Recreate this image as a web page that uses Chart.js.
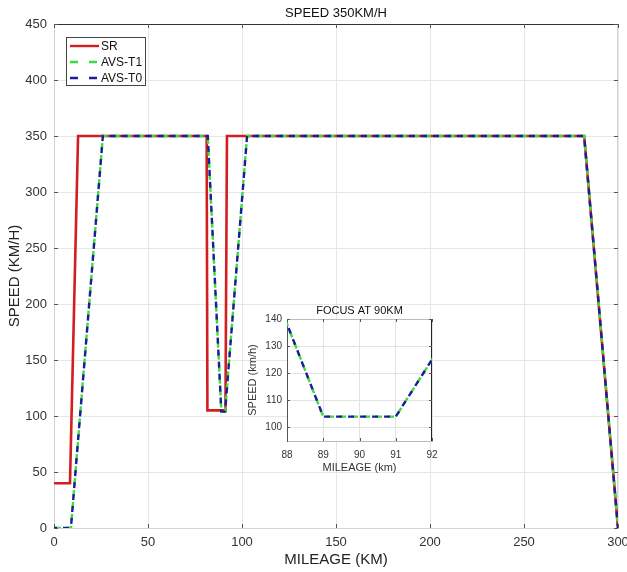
<!DOCTYPE html>
<html>
<head>
<meta charset="utf-8">
<script src="https://cdn.jsdelivr.net/npm/chart.js@4.4.0/dist/chart.umd.min.js"></script>
<style>
    html, body { margin: 0; padding: 0; background: #fff; }
    #wrap { position: relative; width: 627px; height: 572px; }
    #mainChart { position: absolute; left: 0; top: 0; }
    #insetChart { position: absolute; left: 245px; top: 300px; }
</style>
</head>
<body>
<div id="wrap">
    <canvas id="mainChart" width="627" height="572"></canvas>
    <canvas id="insetChart" width="195" height="178"></canvas>
</div>
<script>
// ---- data ----
const seriesNames = ['SR', 'AVS-T1', 'AVS-T0'];

const srMileage = [0, 8.5, 12.8, 81.2, 81.6, 91.2, 92, 282, 300];
const srSpeed   = [40, 40, 350, 350, 105, 105, 350, 350, 0];

const t1Mileage = [0, 9, 26, 81.8, 89, 91, 102.7, 282, 300];
const t1Speed   = [0, 0, 350, 350, 104, 104, 350, 350, 0];

const t0Mileage = [0, 9, 26, 81.8, 89, 90, 91, 102.7, 282, 300];
const t0Speed   = [0, 0, 350, 350, 104, 104, 104, 350, 350, 0];

const mainTitle = 'SPEED 350KM/H';
const mainXLabel = 'MILEAGE (KM)';
const mainYLabel = 'SPEED (KM/H)';
const mainXTicks = [0, 50, 100, 150, 200, 250, 300];
const mainYTicks = [0, 50, 100, 150, 200, 250, 300, 350, 400, 450];

const insetTitle = 'FOCUS AT 90KM';
const insetXLabel = 'MILEAGE (km)';
const insetYLabel = 'SPEED (km/h)';
const insetXTicks = [88, 89, 90, 91, 92];
const insetYTicks = [100, 110, 120, 130, 140];

const FONT = '"Liberation Sans", Arial, Helvetica, sans-serif';
const RED = '#d21e1e';
const GREEN = '#3ddc3d';
const BLUE = '#1c1c9c';

const pts = (xs, ys) => xs.map((x, i) => ({ x, y: ys[i] }));

const makeSets = (withSR) => {
    const sets = [];
    if (withSR) {
        sets.push({ label: seriesNames[0], data: pts(srMileage, srSpeed), borderColor: RED,
            borderWidth: 2.6, pointRadius: 0, order: 2 });
    }
    sets.push({ label: seriesNames[1], data: pts(t1Mileage, t1Speed), borderColor: GREEN,
        borderWidth: 2.4, borderDash: [7, 5], pointRadius: 0, order: 1 });
    sets.push({ label: seriesNames[2], data: pts(t0Mileage, t0Speed), borderColor: BLUE,
        borderWidth: 2.4, borderDash: [6, 6], borderDashOffset: 3, pointRadius: 0, order: 0 });
    return sets;
};

// no automatic side padding from the end labels
const noPadX = (h) => (s) => { s.height = h; s.paddingLeft = 0; s.paddingRight = 0; };
const noPadY = (w) => (s) => { s.width = w; s.paddingTop = 0; s.paddingBottom = 0; };

// MATLAB-like box with inward ticks
const boxPlugin = (tickLen, topColor, rightColor) => ({
    id: 'box',
    beforeDatasetsDraw(chart) {
        const { ctx, chartArea: a, scales } = chart;
        ctx.save();
        ctx.lineWidth = 1;
        ctx.strokeStyle = topColor;
        ctx.beginPath(); ctx.moveTo(a.left, a.top + 0.5); ctx.lineTo(a.right, a.top + 0.5); ctx.stroke();
        ctx.strokeStyle = rightColor;
        ctx.beginPath(); ctx.moveTo(a.right - 0.5, a.top); ctx.lineTo(a.right - 0.5, a.bottom); ctx.stroke();
        ctx.strokeStyle = '#555';
        scales.y.ticks.forEach(t => {
            const y = Math.round(scales.y.getPixelForValue(t.value)) + 0.5;
            ctx.beginPath(); ctx.moveTo(a.left, y); ctx.lineTo(a.left + tickLen, y); ctx.stroke();
            ctx.beginPath(); ctx.moveTo(a.right, y); ctx.lineTo(a.right - tickLen, y); ctx.stroke();
        });
        scales.x.ticks.forEach(t => {
            const x = Math.round(scales.x.getPixelForValue(t.value)) + 0.5;
            ctx.beginPath(); ctx.moveTo(x, a.bottom); ctx.lineTo(x, a.bottom - tickLen); ctx.stroke();
            ctx.beginPath(); ctx.moveTo(x, a.top); ctx.lineTo(x, a.top + tickLen); ctx.stroke();
        });
        ctx.restore();
    }
});

const titlePlugin = (text, size, y) => ({
    id: 'topTitle',
    afterDraw(chart) {
        const { ctx, chartArea: a } = chart;
        ctx.save();
        ctx.font = size + 'px ' + FONT;
        ctx.fillStyle = '#111';
        ctx.textAlign = 'center';
        ctx.textBaseline = 'middle';
        ctx.fillText(text, (a.left + a.right) / 2, y);
        ctx.restore();
    }
});

const legendPlugin = {
    id: 'boxLegend',
    afterDatasetsDraw(chart) {
        const { ctx } = chart;
        const x0 = 66, y0 = 37, w = 79, h = 48;
        ctx.save();
        ctx.fillStyle = '#fff';
        ctx.fillRect(x0, y0, w, h);
        ctx.strokeStyle = '#444';
        ctx.lineWidth = 1;
        ctx.strokeRect(x0 + 0.5, y0 + 0.5, w, h);
        ctx.font = '12px ' + FONT;
        ctx.textBaseline = 'middle';
        ctx.fillStyle = '#111';
        const byLabel = {};
        chart.data.datasets.forEach(d => { byLabel[d.label] = d; });
        seriesNames.forEach((name, i) => {
            const d = byLabel[name];
            const y = y0 + 9 + i * 16;
            ctx.strokeStyle = d.borderColor;
            ctx.lineWidth = 2.4;
            ctx.setLineDash(d.borderDash ? [8, 11] : []);
            ctx.beginPath(); ctx.moveTo(x0 + 4, y); ctx.lineTo(x0 + 33, y); ctx.stroke();
            ctx.setLineDash([]);
            ctx.fillText(name, x0 + 35, y + 1);
        });
        ctx.restore();
    }
};

const whiteArea = {
    id: 'whiteArea',
    beforeDraw(chart) {
        const { ctx, chartArea: a } = chart;
        ctx.save();
        ctx.fillStyle = '#fff';
        ctx.fillRect(a.left, a.top, a.right - a.left, a.bottom - a.top);
        ctx.restore();
    }
};

// ---- main chart ----
new Chart(document.getElementById('mainChart'), {
    type: 'line',
    data: { datasets: makeSets(true) },
    options: {
        responsive: false,
        animation: false,
        devicePixelRatio: 1,
        layout: { padding: { top: 24, right: 9, left: 0, bottom: 0 } },
        elements: { line: { tension: 0 } },
        plugins: { legend: { display: false }, tooltip: { enabled: false } },
        scales: {
            x: {
                type: 'linear', min: 0, max: 300,
                afterBuildTicks: s => { s.ticks = mainXTicks.map(v => ({ value: v })); },
                afterFit: noPadX(44),
                grid: { color: '#e6e6e6', drawTicks: false },
                border: { color: '#d4d4d4' },
                ticks: { padding: 7, color: '#333', font: { family: FONT, size: 13 }, maxRotation: 0 },
                title: { display: true, text: mainXLabel, color: '#222',
                    font: { family: FONT, size: 15 }, padding: { top: 0, bottom: 3 } }
            },
            y: {
                type: 'linear', min: 0, max: 450,
                afterBuildTicks: s => { s.ticks = mainYTicks.map(v => ({ value: v })); },
                afterFit: noPadY(54),
                grid: { color: '#e6e6e6', drawTicks: false },
                border: { color: '#d4d4d4' },
                ticks: { padding: 7, color: '#333', font: { family: FONT, size: 13 } },
                title: { display: true, text: mainYLabel, color: '#222',
                    font: { family: FONT, size: 15 }, padding: { top: 6, bottom: 0 } }
            }
        }
    },
    plugins: [boxPlugin(4, '#333', '#d4d4d4'), titlePlugin(mainTitle, 13, 13), legendPlugin]
});

// ---- inset chart ----
new Chart(document.getElementById('insetChart'), {
    type: 'line',
    data: { datasets: makeSets(false) },
    options: {
        responsive: false,
        animation: false,
        devicePixelRatio: 1,
        layout: { padding: { top: 19, right: 8, left: 0, bottom: 0 } },
        elements: { line: { tension: 0 } },
        plugins: { legend: { display: false }, tooltip: { enabled: false } },
        scales: {
            x: {
                type: 'linear', min: 88, max: 92,
                afterBuildTicks: s => { s.ticks = insetXTicks.map(v => ({ value: v })); },
                afterFit: noPadX(37),
                grid: { color: '#e2e2e2', drawTicks: false },
                border: { color: '#bbb' },
                ticks: { padding: 8, color: '#333', font: { family: FONT, size: 10 }, maxRotation: 0 },
                title: { display: true, text: insetXLabel, color: '#333',
                    font: { family: FONT, size: 11 }, padding: { top: 0, bottom: 3 } }
            },
            y: {
                type: 'linear', min: 95, max: 140,
                afterBuildTicks: s => { s.ticks = insetYTicks.map(v => ({ value: v })); },
                afterFit: noPadY(42),
                grid: { color: '#e2e2e2', drawTicks: false },
                border: { color: '#555' },
                ticks: { padding: 5, color: '#333', font: { family: FONT, size: 10 } },
                title: { display: true, text: insetYLabel, color: '#333',
                    font: { family: FONT, size: 11 }, padding: { top: 1, bottom: 0 } }
            }
        }
    },
    plugins: [whiteArea, boxPlugin(3, '#bbb', '#222'), titlePlugin(insetTitle, 11, 11)]
});
</script>
</body>
</html>
